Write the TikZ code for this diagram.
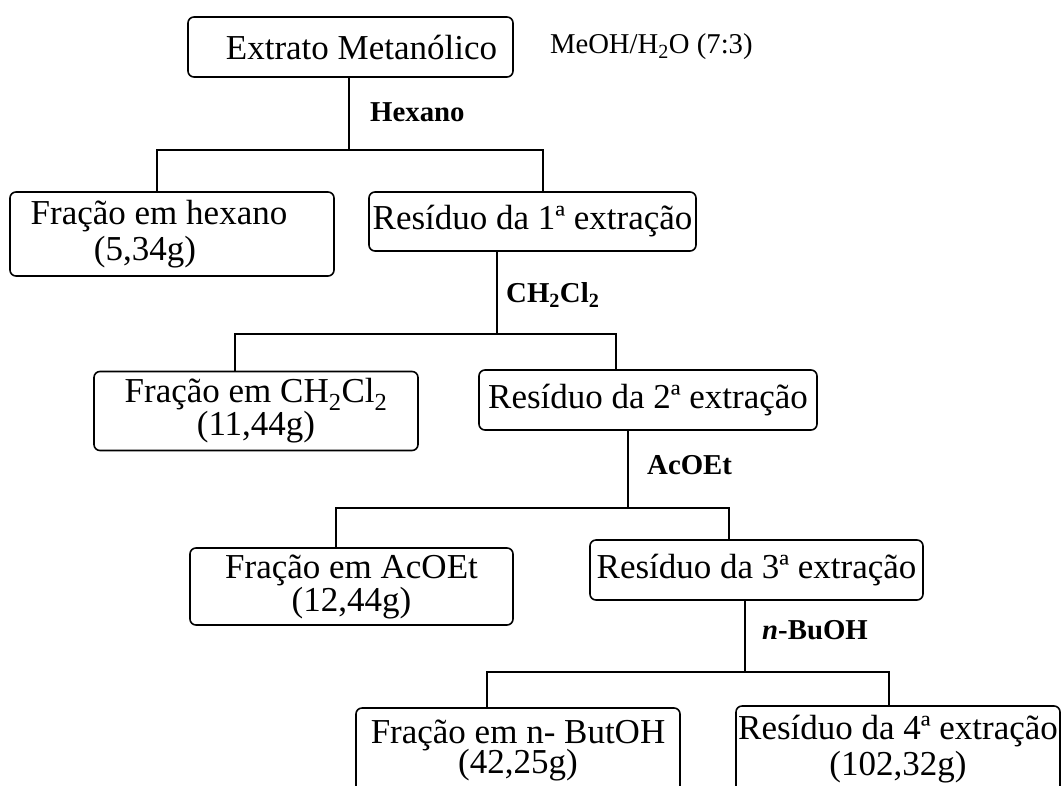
\documentclass[tikz,border=0pt]{standalone}
\usepackage{fontspec}
\setmainfont{Liberation Serif}
\usetikzlibrary{positioning}

\begin{document}
\begin{tikzpicture}[
    x=1pt, y=-1pt,
    box/.style={rectangle, rounded corners=6pt, draw=black, line width=1.6pt, inner sep=0pt, align=center, font=\fontsize{35}{36}\selectfont},
    solvent/.style={inner sep=0pt, anchor=west, font=\fontsize{28.8}{30}\selectfont\bfseries},
    link/.style={line width=1.6pt}
]
    \useasboundingbox (0,0) rectangle (1064,785);
    \clip (0,0) rectangle (1064,785);
    \node[box, minimum width=325pt, minimum height=60pt] (ext) at (350.5,47) {\hspace*{22pt}Extrato Metanólico};
    \node[inner sep=0pt, right=36pt of ext, font=\fontsize{28.7}{30}\selectfont] (meoh) {MeOH/H\textsubscript{2}O (7:3)};
    \node[box, minimum width=324pt, minimum height=84pt] (fhex) at (172,234) {Fração em hexano\hspace*{26pt}\\(5,34g)\hspace*{54pt}};
    \node[box, minimum width=327pt, minimum height=59pt] (res1) at (532.5,221.5) {Resíduo da 1ª extração};
    \node[box, minimum width=324pt, minimum height=79pt] (fdcm) at (256,411) {Fração em CH\textsubscript{2}Cl\textsubscript{2}\\[-3pt](11,44g)};
    \node[box, minimum width=338pt, minimum height=60pt] (res2) at (648,400) {Resíduo da 2ª extração};
    \node[box, minimum width=323pt, minimum height=77pt] (fac) at (351.5,586.5) {Fração em AcOEt\\[-3pt](12,44g)};
    \node[box, minimum width=333pt, minimum height=60pt] (res3) at (756.5,570) {Resíduo da 3ª extração};
    \node[box, minimum width=324pt, minimum height=85pt] (fbu) at (518,750.5) {Fração em n- ButOH\\[-6pt](42,25g)};
    \node[box, minimum width=324pt, minimum height=94pt, text depth=16pt] (res4) at (898,753) {Resíduo da 4ª extração\\[0pt](102,32g)};
    \node[solvent] (hex) at (370,112) {Hexano};
    \node[solvent] (dcm) at (506,295) {CH\textsubscript{2}Cl\textsubscript{2}};
    \node[solvent] (acoet) at (647,465) {AcOEt};
    \node[solvent] (buoh) at (762,630) {\textit{n}-BuOH};
    \coordinate (j1) at (349,150);
    \coordinate (l1) at (157,150);
    \coordinate (r1) at (543,150);
    \coordinate (j2) at (497,334);
    \coordinate (l2) at (235,334);
    \coordinate (r2) at (616,334);
    \coordinate (j3) at (628,508);
    \coordinate (l3) at (336,508);
    \coordinate (r3) at (729,508);
    \coordinate (j4) at (745,672);
    \coordinate (l4) at (487,672);
    \coordinate (r4) at (889,672);
    \draw[link] (ext.south -| j1) -- (j1);
    \draw[link] (fhex.north -| l1) -- (l1) -- (r1) -- (res1.north -| r1);
    \draw[link] (res1.south -| j2) -- (j2);
    \draw[link] (fdcm.north -| l2) -- (l2) -- (r2) -- (res2.north -| r2);
    \draw[link] (res2.south -| j3) -- (j3);
    \draw[link] (fac.north -| l3) -- (l3) -- (r3) -- (res3.north -| r3);
    \draw[link] (res3.south -| j4) -- (j4);
    \draw[link] (fbu.north -| l4) -- (l4) -- (r4) -- (res4.north -| r4);
\end{tikzpicture}
\end{document}
